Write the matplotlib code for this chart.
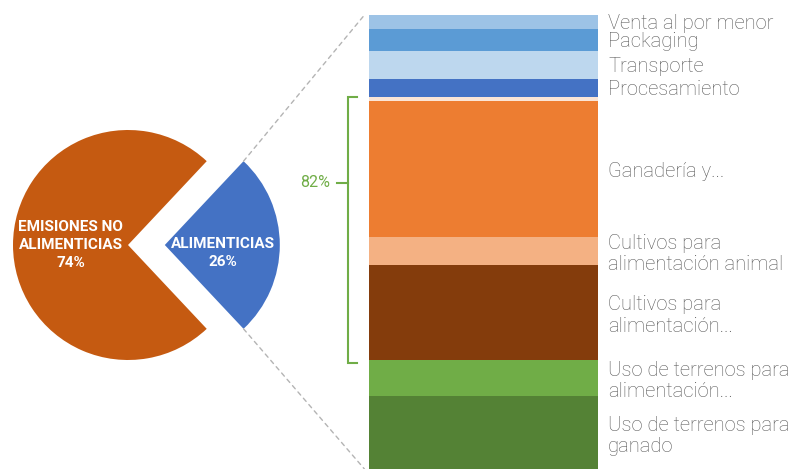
import numpy as np
import matplotlib
matplotlib.use("Agg")
import matplotlib.pyplot as plt
from matplotlib.patches import ConnectionPatch

# pie data
pie_labels = ["ALIMENTICIAS\n26%", "EMISIONES NO\nALIMENTICIAS\n74%"]
pie_values = [26, 74]
pie_colors = ["#4472C4", "#C55A11"]

# stacked bar, top to bottom
bar_labels = ["Venta al por menor", "Packaging", "Transporte", "Procesamiento", "",
              "Ganadería y...", "Cultivos para\nalimentación animal",
              "Cultivos para\nalimentación...", "Uso de terrenos para\nalimentación...",
              "Uso de terrenos para\nganado"]
bar_values = [3, 5, 6, 4, 1, 30, 6, 21, 8, 16]
bar_colors = ["#9DC3E6", "#5B9BD5", "#BDD7EE", "#4472C4", "#FBE5D6",
              "#ED7D31", "#F4B183", "#843C0C", "#70AD47", "#548235"]
bracket_text = "82%"
bracket_span = (4, 8)  # segments covered by the bracket (index range)

W, H = 798, 469
fig = plt.figure(figsize=(W / 100, H / 100), dpi=100)

# ---- pie ----
r_px = 115
cx, cy = 128, 245
axp = fig.add_axes([0, 0, 300 / W, 1])
half = 360 * pie_values[0] / sum(pie_values) / 2
explode = [0.32, 0]
axp.pie(pie_values, colors=pie_colors, startangle=-half, explode=explode,
        counterclock=True, wedgeprops=dict(linewidth=0))
axp.set_xlim(-cx / r_px, (300 - cx) / r_px)
axp.set_ylim(-(H - cy) / r_px, cy / r_px)
axp.set_aspect("auto")
axp.axis("off")

pie_font = dict(family=["Roboto", "DejaVu Sans"], fontweight="bold",
                color="white", fontsize=11, ha="center", va="center", linespacing=1.4)
axp.text(0.826, -0.07, pie_labels[0], **pie_font)
axp.text(-0.50, 0.0, pie_labels[1], **pie_font)

# ---- stacked bar ----
bx0, bx1, btop = 369, 598, 15
axb = fig.add_axes([bx0 / W, 0, (bx1 - bx0) / W, 1 - btop / H])
total = sum(bar_values)
tops = total - np.concatenate([[0], np.cumsum(bar_values)[:-1]])
for lab, v, c, t in zip(bar_labels, bar_values, bar_colors, tops):
    axb.bar(0.5, v, bottom=t - v, width=1, color=c, linewidth=0)
    if lab:
        axb.text(1.044, t - v / 2, lab, ha="left", va="center_baseline", fontsize=14.5,
                 color="#595959", family=["Roboto", "DejaVu Sans"], fontweight="light",
                 linespacing=1.15, clip_on=False)
axb.set_xlim(0, 1)
axb.set_ylim(0, total)
axb.axis("off")

# bracket
green = "#70AD47"
y_hi = tops[bracket_span[0]]
y_lo = tops[bracket_span[1]] - 0.6
xb, xh = -0.092, -0.052
axb.plot([xh, xb, xb, xh], [y_hi, y_hi, y_lo, y_lo], color=green, lw=1.5,
         clip_on=False, solid_joinstyle="miter")
y_mid = 63
axb.plot([-0.14, xb], [y_mid, y_mid], color=green, lw=1.5, clip_on=False)
axb.text(-0.168, y_mid, bracket_text, color=green, fontsize=11.5, ha="right", va="center",
         family=["Roboto", "DejaVu Sans"], clip_on=False)

# dashed connectors
ang = np.deg2rad(half)
for sgn, yb in [(1, total), (-1, 0)]:
    pa = (explode[0] + np.cos(ang), sgn * np.sin(ang))
    con = ConnectionPatch(xyA=pa, coordsA=axp.transData, xyB=(-0.02, yb), coordsB=axb.transData,
                          color="#B4B4B4", lw=1, linestyle=(0, (3, 3)))
    fig.add_artist(con)

fig.savefig("out.png", dpi=100)
